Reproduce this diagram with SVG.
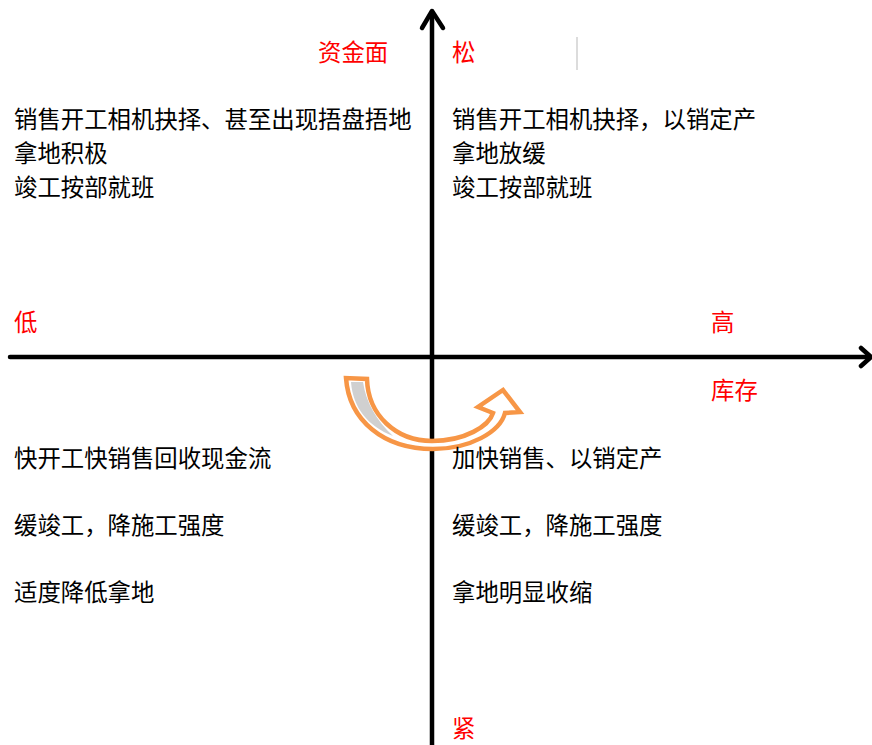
<svg xmlns="http://www.w3.org/2000/svg" width="872" height="745" viewBox="0 0 872 745">
<style>
text{font-family:"Noto Sans CJK SC","Microsoft YaHei",sans-serif;font-size:23.4px;}
.t{fill:#000;}
.r{fill:#ff0000;}
.ax{stroke:#000;stroke-width:4.5;fill:none;stroke-linecap:round;stroke-linejoin:round;}
</style>
<rect width="872" height="745" fill="#fff"/>
<g id="connectors">
<line class="ax" x1="432" y1="12" x2="432" y2="750"/>
<polyline class="ax" points="422,28 432,11 443,28"/>
<line class="ax" x1="10" y1="357" x2="870" y2="357"/>
<polyline class="ax" points="861,348 871,357 861,366"/>
</g>
<line x1="577" y1="37" x2="577" y2="70" stroke="#d0d0d0" stroke-width="1.5"/>
<g id="curved-arrow">
<path d="M346,378 C349,420 383,449 433,449 C470,449 500,432 505,413 L520,412 L503,390 L478,407 L493,413 C489,426 465,441 432,441 C396,441 368,415 367,379 Z" fill="#fff" stroke="#f79646" stroke-width="4.5" stroke-linejoin="miter"/>
<path d="M351,382 C353,408 368,426 393,436 C376,420 366,402 363,382 Z" fill="#d0d0d0"/>
</g>
<g id="axis-labels">
<text class="r" x="318" y="61">资金面</text>
<text class="r" x="452" y="61">松</text>
<text class="r" x="14" y="331">低</text>
<text class="r" x="711" y="331">高</text>
<text class="r" x="711" y="399">库存</text>
<text class="r" x="452" y="737">紧</text>
</g>
<g id="q-top-left">
<text class="t" x="14" y="128">销售开工相机抉择、甚至出现捂盘捂地</text>
<text class="t" x="14" y="162">拿地积极</text>
<text class="t" x="14" y="196">竣工按部就班</text>
</g>
<g id="q-top-right">
<text class="t" x="452" y="128">销售开工相机抉择，以销定产</text>
<text class="t" x="452" y="162">拿地放缓</text>
<text class="t" x="452" y="196">竣工按部就班</text>
</g>
<g id="q-bottom-left">
<text class="t" x="14" y="467">快开工快销售回收现金流</text>
<text class="t" x="14" y="534">缓竣工，降施工强度</text>
<text class="t" x="14" y="601">适度降低拿地</text>
</g>
<g id="q-bottom-right">
<text class="t" x="452" y="467">加快销售、以销定产</text>
<text class="t" x="452" y="534">缓竣工，降施工强度</text>
<text class="t" x="452" y="601">拿地明显收缩</text>
</g>
</svg>
